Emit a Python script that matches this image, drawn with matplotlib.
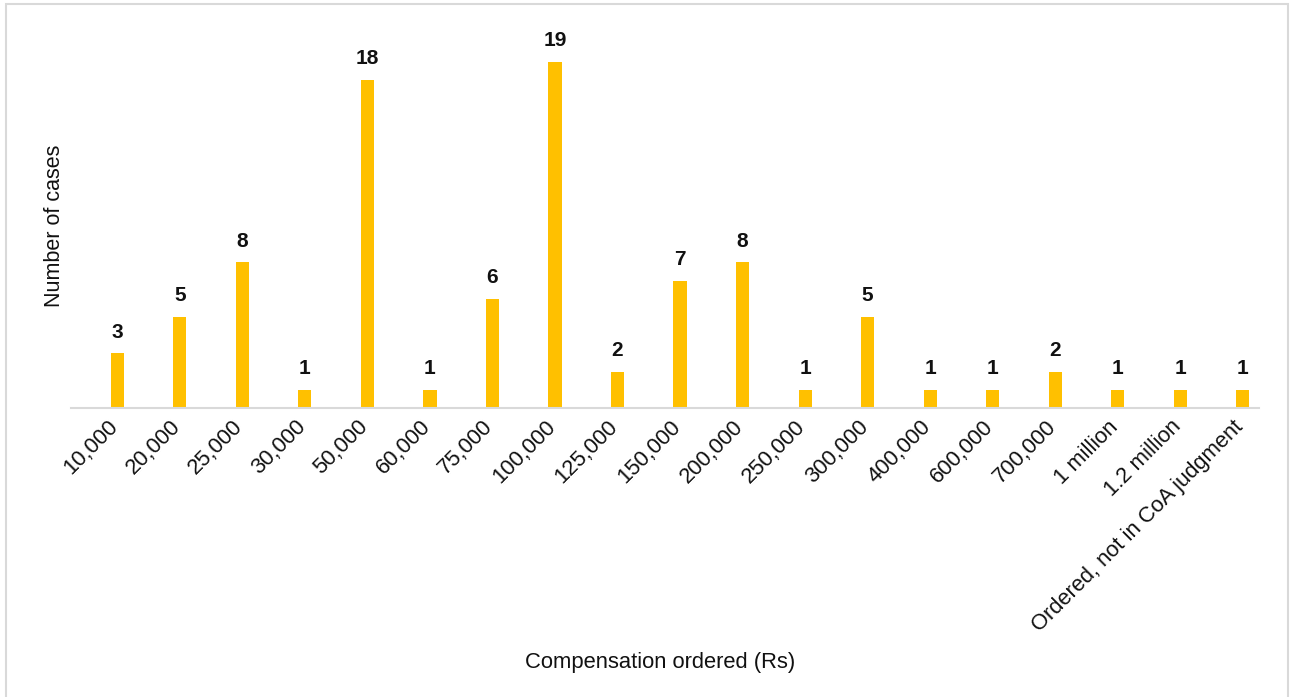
import numpy as np
import matplotlib.pyplot as plt
from matplotlib.patches import Rectangle
from matplotlib.transforms import ScaledTranslation

plt.rcParams['font.family'] = ['Liberation Sans', 'DejaVu Sans']

# Data
categories = ["10,000", "20,000", "25,000", "30,000", "50,000", "60,000", "75,000",
              "100,000", "125,000", "150,000", "200,000", "250,000", "300,000",
              "400,000", "600,000", "700,000", "1 million", "1.2 million",
              "Ordered, not in CoA judgment"]
cases = [3, 5, 8, 1, 18, 1, 6, 19, 2, 7, 8, 1, 5, 1, 1, 2, 1, 1, 1]

fig = plt.figure(figsize=(12.94, 6.97), dpi=100)
ax = fig.add_axes([0.0549, 0.4146, 0.9181, 0.5224])

x = np.arange(len(categories))
# bars sit a little right of the category centre (Excel clustered layout)
bars = ax.bar(x + 0.24, cases, width=0.21, color='#FFC000', zorder=2)

for b, v in zip(bars, cases):
    ax.text(b.get_x() + b.get_width() / 2, v + 0.65, str(v),
            ha='center', va='bottom', fontsize=15, fontweight='bold',
            color='#111111')

ax.set_xlim(-0.5, len(categories) - 0.5)
ax.set_ylim(0, 20)
ax.set_xticks(x)
ax.set_xticklabels(categories, rotation=45, ha='right', rotation_mode='anchor',
                   fontsize=15.8, color='#111111')
ax.tick_params(axis='x', length=0, pad=6)
shift = ScaledTranslation(5 / 100, 0, fig.dpi_scale_trans)
for lbl in ax.get_xticklabels():
    lbl.set_transform(lbl.get_transform() + shift)
ax.set_yticks([])

for side in ['top', 'right', 'left']:
    ax.spines[side].set_visible(False)
ax.spines['bottom'].set_color('#D9D9D9')
ax.spines['bottom'].set_linewidth(1.5)

ax.set_ylabel('Number of cases', fontsize=15.5, color='#111111', labelpad=4)
fig.text(0.51, 0.049, 'Compensation ordered (Rs)', ha='center', va='center',
         fontsize=15.8, color='#111111')

# light grey frame around the chart
fig.patches.append(Rectangle((0.005, -0.01), 0.99, 1.004, transform=fig.transFigure,
                             fill=False, edgecolor='#D9D9D9', linewidth=1.5))

fig.savefig('out.png', dpi=100)
